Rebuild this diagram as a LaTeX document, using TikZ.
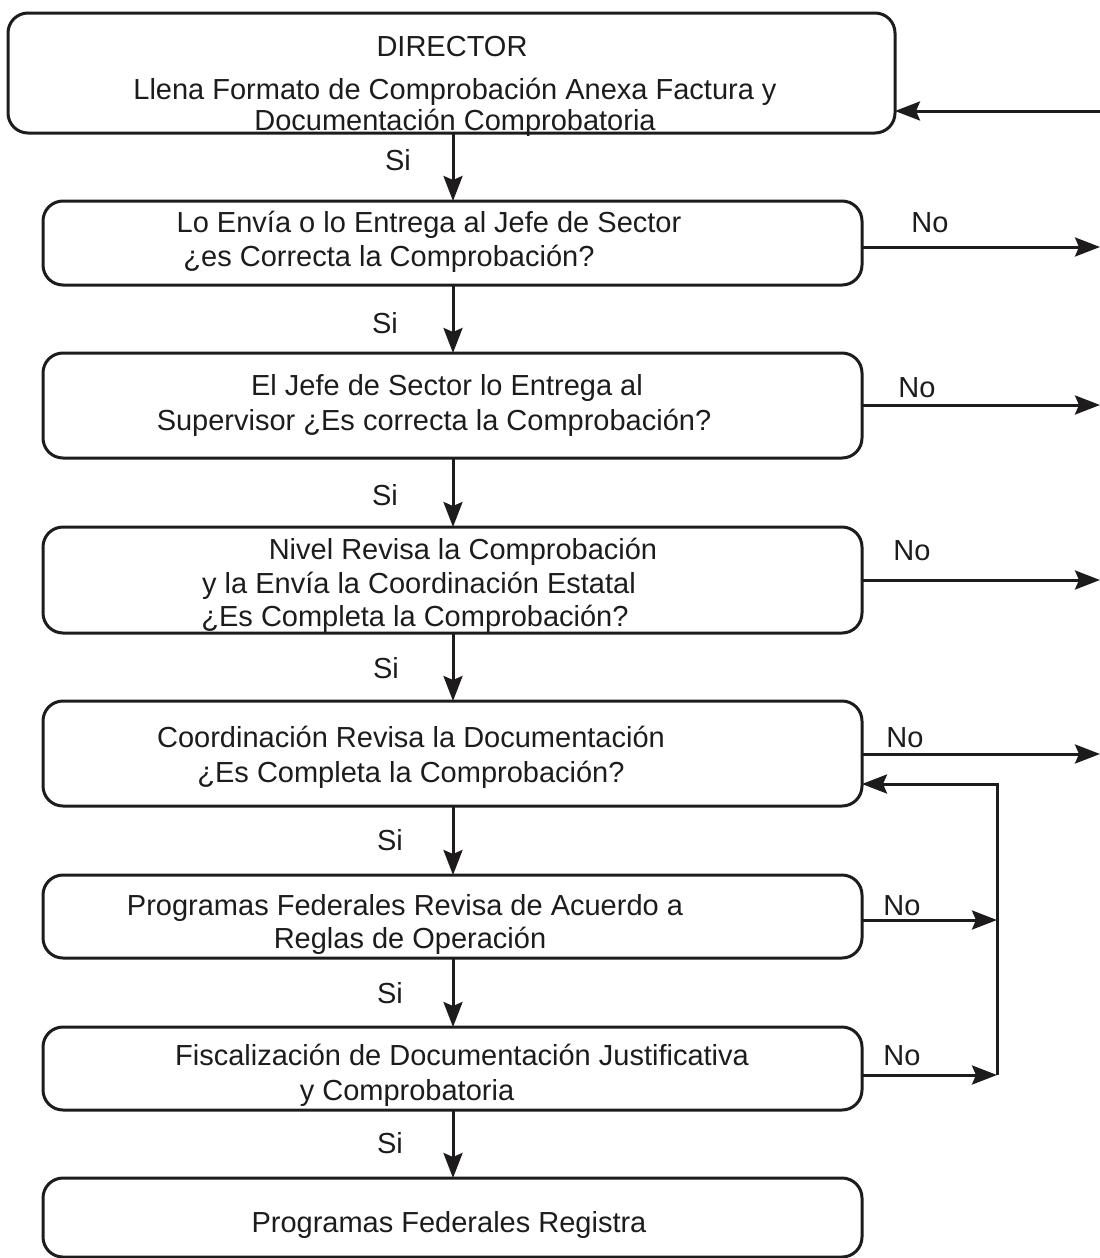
\documentclass[tikz,border=0pt]{standalone}
\usepackage{fontspec}
\setmainfont{Liberation Sans}
\usetikzlibrary{arrows.meta}
\definecolor{ink}{RGB}{30,27,28}
\begin{document}
\begin{tikzpicture}[x=1pt,y=-1pt,
 box/.style={draw=ink, line width=3pt, rounded corners=20pt, inner sep=0pt, outer sep=0pt, minimum width=819pt},
 txt/.style={anchor=base, inner sep=0pt, font=\fontsize{29}{35}\selectfont, text=ink},
 arr/.style={draw=ink, line width=3pt, -{Stealth[length=25pt,width=19pt,inset=4pt,fill=ink]}},
 ln/.style={draw=ink, line width=3pt}]
\useasboundingbox (0,0) rectangle (1100,1258);
% boxes
\node[box, minimum width=887pt, minimum height=120pt] (b1) at (451.5,73) {};
\node[box, minimum height=84pt] (b2) at (452.5,243) {};
\node[box, minimum height=105pt] (b3) at (452.5,405.5) {};
\node[box, minimum height=106pt] (b4) at (452.5,580) {};
\node[box, minimum height=105pt] (b5) at (452.5,753.5) {};
\node[box, minimum height=83pt] (b6) at (452.5,916.5) {};
\node[box, minimum height=83pt] (b7) at (452.5,1068.5) {};
\node[box, minimum height=79pt] (b8) at (452.5,1217.5) {};
% texts
\node[txt] (t1a) at (452,56) {DIRECTOR};
\node[txt] (t1b) at (455,99) {Llena Formato de Comprobación Anexa Factura y};
\node[txt] (t1c) at (455,130) {Documentación Comprobatoria};
\node[txt] (t2a) at (429,232) {Lo Envía o lo Entrega al Jefe de Sector};
\node[txt] (t2b) at (389,266) {¿es Correcta la Comprobación?};
\node[txt] (t3a) at (447,395) {El Jefe de Sector lo Entrega al};
\node[txt] (t3b) at (434,430) {Supervisor ¿Es correcta la Comprobación?};
\node[txt] (t4a) at (463,559) {Nivel Revisa la Comprobación};
\node[txt] (t4b) at (419,593) {y la Envía la Coordinación Estatal};
\node[txt] (t4c) at (415,626) {¿Es Completa la Comprobación?};
\node[txt] (t5a) at (411,747) {Coordinación Revisa la Documentación};
\node[txt] (t5b) at (411,782) {¿Es Completa la Comprobación?};
\node[txt] (t6a) at (405,915) {Programas Federales Revisa de Acuerdo a};
\node[txt] (t6b) at (410,948) {Reglas de Operación};
\node[txt] (t7a) at (462,1065) {Fiscalización de Documentación Justificativa};
\node[txt] (t7b) at (407,1100) {y Comprobatoria};
\node[txt] (t8a) at (449,1232) {Programas Federales Registra};
% Si labels
\node[txt] (s1) at (398,170) {Si};
\node[txt] (s2) at (385,333) {Si};
\node[txt] (s3) at (385,505) {Si};
\node[txt] (s4) at (386,678) {Si};
\node[txt] (s5) at (390,850) {Si};
\node[txt] (s6) at (390,1003) {Si};
\node[txt] (s7) at (390,1153) {Si};
% No labels
\node[txt] (n2) at (930,232) {No};
\node[txt] (n3) at (917,397) {No};
\node[txt] (n4) at (912,560) {No};
\node[txt] (n5) at (905,747) {No};
\node[txt] (n6) at (902,915) {No};
\node[txt] (n7) at (902,1065) {No};
% vertical flow
\coordinate (ax) at (453,0);
\draw[arr] (b1.south -| ax) -- (b2.north -| ax);
\draw[arr] (b2.south -| ax) -- (b3.north -| ax);
\draw[arr] (b3.south -| ax) -- (b4.north -| ax);
\draw[arr] (b4.south -| ax) -- (b5.north -| ax);
\draw[arr] (b5.south -| ax) -- (b6.north -| ax);
\draw[arr] (b6.south -| ax) -- (b7.north -| ax);
\draw[arr] (b7.south -| ax) -- (b8.north -| ax);
% right side
\coordinate (r1) at (1100,111);
\coordinate (r2) at (1100,247);
\coordinate (r3) at (1100,405);
\coordinate (r4) at (1100,580);
\coordinate (r5) at (1100,754);
\coordinate (j5) at (997,784);
\coordinate (j6) at (997,920);
\coordinate (j7) at (997,1075);
\draw[arr] (r1) -- (r1 -| b1.east);
\draw[arr] (r2 -| b2.east) -- (r2);
\draw[arr] (r3 -| b3.east) -- (r3);
\draw[arr] (r4 -| b4.east) -- (r4);
\draw[arr] (r5 -| b5.east) -- (r5);
\draw[arr] (j6 -| b6.east) -- (j6);
\draw[arr] (j7 -| b7.east) -- (j7);
\draw[arr] (j7) -- (j5) -- (j5 -| b5.east);
\end{tikzpicture}
\end{document}
